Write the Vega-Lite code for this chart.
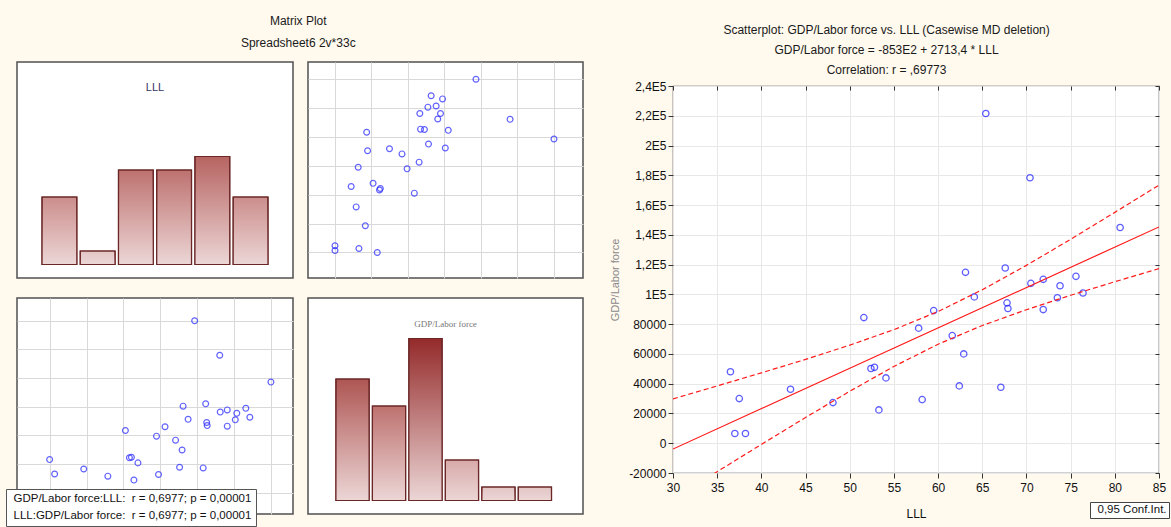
{
  "$schema": "https://vega.github.io/schema/vega-lite/v6.json",
  "background": "#FFF9EE",
  "padding": {"left": 4, "top": 15, "right": 0, "bottom": 0},
  "config": {
    "font": "Liberation Sans",
    "view": {"stroke": "#505050", "strokeWidth": 1.5, "fill": "white"},
    "axis": {"labelFont": "Liberation Sans", "titleFont": "Liberation Sans", "labelOverlap": false, "labelFlush": false},
    "title": {"font": "Liberation Sans", "fontWeight": "normal", "color": "#1a1a1a"},
    "legend": {"labelFont": "Liberation Sans"}
  },
  "datasets": {
    "pts": [
      {"LLL": 36.5, "GDP": 48000}, {"LLL": 37.5, "GDP": 30000}, {"LLL": 37.0, "GDP": 6500},
      {"LLL": 38.2, "GDP": 6500}, {"LLL": 43.3, "GDP": 36300}, {"LLL": 48.1, "GDP": 27300},
      {"LLL": 51.6, "GDP": 84400}, {"LLL": 52.4, "GDP": 50200}, {"LLL": 52.8, "GDP": 51000},
      {"LLL": 54.1, "GDP": 43900}, {"LLL": 53.3, "GDP": 22400}, {"LLL": 57.8, "GDP": 77300},
      {"LLL": 58.2, "GDP": 29300}, {"LLL": 59.5, "GDP": 89100}, {"LLL": 61.6, "GDP": 72300},
      {"LLL": 62.9, "GDP": 60000}, {"LLL": 62.4, "GDP": 38500}, {"LLL": 64.1, "GDP": 98300},
      {"LLL": 67.1, "GDP": 37600}, {"LLL": 67.8, "GDP": 94300}, {"LLL": 67.9, "GDP": 90500},
      {"LLL": 71.9, "GDP": 89800}, {"LLL": 73.5, "GDP": 97700}, {"LLL": 76.4, "GDP": 100900},
      {"LLL": 65.4, "GDP": 221500}, {"LLL": 70.4, "GDP": 178400}, {"LLL": 80.6, "GDP": 144900},
      {"LLL": 63.1, "GDP": 114800}, {"LLL": 67.6, "GDP": 117700}, {"LLL": 70.5, "GDP": 107400},
      {"LLL": 71.9, "GDP": 110100}, {"LLL": 73.8, "GDP": 105800}, {"LLL": 75.6, "GDP": 112100}
    ],
    "histLLL": [
      {"bin": 1, "count": 5}, {"bin": 2, "count": 1}, {"bin": 3, "count": 7},
      {"bin": 4, "count": 7}, {"bin": 5, "count": 8}, {"bin": 6, "count": 5}
    ],
    "histGDP": [
      {"bin": 1, "count": 9}, {"bin": 2, "count": 7}, {"bin": 3, "count": 12},
      {"bin": 4, "count": 3}, {"bin": 5, "count": 1}, {"bin": 6, "count": 1}
    ],
    "ci": [
      {"kind": "fit", "LLL": 30, "v": -3900}, {"kind": "fit", "LLL": 85, "v": 145300},
      {"kind": "lower", "LLL": 30, "v": -37600}, {"kind": "lower", "LLL": 35, "v": -19100},
      {"kind": "lower", "LLL": 40, "v": -800}, {"kind": "lower", "LLL": 45, "v": 17300},
      {"kind": "lower", "LLL": 50, "v": 34900}, {"kind": "lower", "LLL": 55, "v": 51600},
      {"kind": "lower", "LLL": 60, "v": 66500}, {"kind": "lower", "LLL": 65, "v": 79100},
      {"kind": "lower", "LLL": 70, "v": 89700}, {"kind": "lower", "LLL": 75, "v": 99400},
      {"kind": "lower", "LLL": 80, "v": 108500}, {"kind": "lower", "LLL": 85, "v": 117300},
      {"kind": "upper", "LLL": 30, "v": 29800}, {"kind": "upper", "LLL": 35, "v": 38500},
      {"kind": "upper", "LLL": 40, "v": 47300}, {"kind": "upper", "LLL": 45, "v": 56300},
      {"kind": "upper", "LLL": 50, "v": 65900}, {"kind": "upper", "LLL": 55, "v": 76300},
      {"kind": "upper", "LLL": 60, "v": 88500}, {"kind": "upper", "LLL": 65, "v": 103100},
      {"kind": "upper", "LLL": 70, "v": 119500}, {"kind": "upper", "LLL": 75, "v": 137000},
      {"kind": "upper", "LLL": 80, "v": 155100}, {"kind": "upper", "LLL": 85, "v": 173400}
    ]
  },
  "resolve": {"scale": {"stroke": "independent", "color": "independent", "fill": "independent"}, "legend": {"stroke": "independent", "color": "independent"}},
  "spacing": 25,
  "hconcat": [
    {
      "title": {"text": ["Matrix Plot", "Spreadsheet6 2v*33c"], "fontSize": 12, "lineHeight": 22, "offset": 11, "anchor": "middle", "frame": "bounds", "dx": 4},
      "resolve": {"scale": {"stroke": "independent", "color": "independent", "fill": "independent"}, "legend": {"stroke": "independent", "color": "independent"}},
      "spacing": 18,
      "vconcat": [
        {
          "spacing": 13,
          "hconcat": [
            {
              "width": 276, "height": 216,
              "title": {"text": "LLL", "offset": -31, "fontSize": 11, "color": "#34345e", "anchor": "middle"},
              "data": {"name": "histLLL"},
              "encoding": {
                "x": {"field": "bin", "type": "ordinal", "scale": {"paddingInner": 0.09, "paddingOuter": 0.655}, "axis": null},
                "y": {"field": "count", "type": "quantitative", "scale": {"domain": [-1, 15], "nice": false, "zero": false}, "axis": null},
                "y2": {"datum": 0}
              },
              "layer": [
                {"mark": {"type": "bar", "stroke": "#6b2626", "strokeWidth": 1.2},
                 "encoding": {"fill": {"field": "count", "type": "quantitative", "scale": {"domain": [1, 12], "range": ["#e3c6c6", "#942a2a"]}, "legend": null}}},
                {"mark": {"type": "bar", "stroke": "#6b2626", "strokeWidth": 1.2,
                  "fill": {"gradient": "linear", "x1": 0, "y1": 0, "x2": 0, "y2": 1, "stops": [{"offset": 0, "color": "rgba(236,214,214,0)"}, {"offset": 1, "color": "rgba(236,214,214,1)"}]}}}
              ]
            },
            {
              "width": 275, "height": 216,
              "data": {"name": "pts"},
              "mark": {"type": "point", "shape": "circle", "filled": false, "stroke": "#2020ff", "strokeWidth": 1.2, "size": 34},
              "encoding": {
                "x": {"field": "GDP", "type": "quantitative", "scale": {"domain": [-20000, 250000], "nice": false, "zero": false},
                      "axis": {"values": [6500, 42333, 78167, 114000, 149833, 185667, 221500], "labels": false, "ticks": false, "domain": false, "title": null, "grid": true, "gridColor": "#d9d9d9"}},
                "y": {"field": "LLL", "type": "quantitative", "scale": {"domain": [30, 85], "nice": false, "zero": false},
                      "axis": {"values": [36.5, 43.85, 51.2, 58.55, 65.9, 73.25, 80.6], "labels": false, "ticks": false, "domain": false, "title": null, "grid": true, "gridColor": "#d9d9d9"}}
              }
            }
          ]
        },
        {
          "spacing": 13,
          "resolve": {"scale": {"stroke": "independent", "color": "independent", "fill": "independent"}, "legend": {"stroke": "independent", "color": "independent"}},
          "hconcat": [
            {
              "width": 276, "height": 216,
              "data": {"name": "pts"},
              "mark": {"type": "point", "shape": "circle", "filled": false, "strokeWidth": 1.2, "size": 34},
              "encoding": {
                "x": {"field": "LLL", "type": "quantitative", "scale": {"domain": [30, 85], "nice": false, "zero": false},
                      "axis": {"values": [36.5, 43.85, 51.2, 58.55, 65.9, 73.25, 80.6], "labels": false, "ticks": false, "domain": false, "title": null, "grid": true, "gridColor": "#d9d9d9"}},
                "y": {"field": "GDP", "type": "quantitative", "scale": {"domain": [-20000, 250000], "nice": false, "zero": false},
                      "axis": {"values": [6500, 42333, 78167, 114000, 149833, 185667, 221500], "labels": false, "ticks": false, "domain": false, "title": null, "grid": true, "gridColor": "#d9d9d9"}},
                "stroke": {
                  "datum": "GDP/Labor force:LLL:\u00a0 r = 0,6977; p = 0,00001",
                  "scale": {"domain": ["GDP/Labor force:LLL:\u00a0 r = 0,6977; p = 0,00001", "LLL:GDP/Labor force:\u00a0 r = 0,6977; p = 0,00001"], "range": ["#2020ff", "#2020ff"]},
                  "legend": {"orient": "none", "legendX": -11, "legendY": 191, "title": null, "strokeColor": "#555555", "fillColor": "white", "padding": 4, "rowPadding": 4, "labelFontSize": 11.5, "labelColor": "#111111", "labelLimit": 0, "symbolType": "circle", "symbolSize": 0, "symbolStrokeWidth": 0, "symbolOpacity": 0, "labelOffset": -8}
                }
              }
            },
            {
              "width": 275, "height": 216,
              "title": {"text": "GDP/Labor force", "offset": -31, "fontSize": 9, "font": "Liberation Serif", "color": "#777777", "anchor": "middle"},
              "data": {"name": "histGDP"},
              "encoding": {
                "x": {"field": "bin", "type": "ordinal", "scale": {"paddingInner": 0.09, "paddingOuter": 0.815, "align": 0.47}, "axis": null},
                "y": {"field": "count", "type": "quantitative", "scale": {"domain": [-1, 15], "nice": false, "zero": false}, "axis": null},
                "y2": {"datum": 0}
              },
              "layer": [
                {"mark": {"type": "bar", "stroke": "#6b2626", "strokeWidth": 1.2},
                 "encoding": {"fill": {"field": "count", "type": "quantitative", "scale": {"domain": [1, 12], "range": ["#e3c6c6", "#942a2a"]}, "legend": null}}},
                {"mark": {"type": "bar", "stroke": "#6b2626", "strokeWidth": 1.2,
                  "fill": {"gradient": "linear", "x1": 0, "y1": 0, "x2": 0, "y2": 1, "stops": [{"offset": 0, "color": "rgba(236,214,214,0)"}, {"offset": 1, "color": "rgba(236,214,214,1)"}]}}}
              ]
            }
          ]
        }
      ]
    },
    {
      "title": {"text": ["Scatterplot: GDP/Labor force vs. LLL (Casewise MD deletion)", "GDP/Labor force = -853E2 + 2713,4 * LLL", "Correlation: r = ,69773"], "fontSize": 12, "lineHeight": 20, "offset": -15, "anchor": "middle", "frame": "bounds", "dx": -3},
      "bounds": "flush",
      "spacing": 0,
      "resolve": {"scale": {"stroke": "independent", "color": "independent", "fill": "independent"}, "legend": {"stroke": "independent", "color": "independent"}},
      "vconcat": [
        {
          "width": 1, "height": 24,
          "view": {"stroke": "transparent", "fill": "transparent"},
          "data": {"values": []},
          "mark": {"type": "rule"},
          "encoding": {}
        },
        {
          "width": 486, "height": 387,
          "view": {"stroke": "#4a4a4a", "strokeWidth": 1.2, "fill": "white"},
          "resolve": {"axis": {"x": "independent", "y": "independent"}},
          "layer": [
            {
              "data": {"name": "pts"},
              "mark": {"type": "point", "shape": "circle", "filled": false, "stroke": "#1a1aff", "strokeWidth": 1.3, "size": 40},
              "encoding": {
                "x": {"field": "LLL", "type": "quantitative", "title": "LLL", "scale": {"domain": [30, 85], "nice": false, "zero": false},
                      "axis": {"values": [30, 35, 40, 45, 50, 55, 60, 65, 70, 75, 80, 85], "grid": true, "gridColor": "#e8e8e8", "domain": false, "tickSize": 5, "tickColor": "#333333", "labelPadding": 4, "labelFontSize": 12, "labelColor": "#111111", "labelFlush": false, "labelOverlap": false, "titleFontSize": 12, "titleFontWeight": "normal", "titleColor": "#111111", "titlePadding": 15}},
                "y": {"field": "GDP", "type": "quantitative", "title": "GDP/Labor force", "scale": {"domain": [-20000, 240000], "nice": false, "zero": false},
                      "axis": {"values": [-20000, 0, 20000, 40000, 60000, 80000, 100000, 120000, 140000, 160000, 180000, 200000, 220000, 240000],
                               "labelExpr": "datum.value >= 100000 ? replace(format(datum.value / 100000, '.1~f'), '.', ',') + 'E5' : '' + datum.value",
                               "grid": true, "gridColor": "#e8e8e8", "domain": false, "tickSize": 5, "tickColor": "#333333", "labelPadding": 2, "labelFontSize": 12, "labelColor": "#111111", "labelFlush": false, "labelOverlap": false, "titleFontSize": 11, "titleFontWeight": "normal", "titleColor": "#8a8a8a", "titlePadding": 8}}
              }
            },
            {
              "data": {"name": "pts"},
              "mark": {"type": "point", "opacity": 0},
              "encoding": {
                "x": {"field": "LLL", "type": "quantitative", "scale": {"domain": [30, 85], "nice": false, "zero": false},
                      "axis": {"orient": "top", "values": [30, 35, 40, 45, 50, 55, 60, 65, 70, 75, 80, 85], "grid": false, "domain": false, "labels": false, "title": null, "tickSize": -4, "tickColor": "#333333"}},
                "y": {"field": "GDP", "type": "quantitative", "scale": {"domain": [-20000, 240000], "nice": false, "zero": false},
                      "axis": {"orient": "right", "values": [-20000, 0, 20000, 40000, 60000, 80000, 100000, 120000, 140000, 160000, 180000, 200000, 220000, 240000], "grid": false, "domain": false, "labels": false, "title": null, "tickSize": -4, "tickColor": "#333333"}}
              }
            },
            {
              "data": {"name": "ci"},
              "transform": [{"filter": "datum.kind == 'fit'"}],
              "mark": {"type": "line", "color": "#ff1a1a", "strokeWidth": 1.2, "clip": true},
              "encoding": {
                "x": {"field": "LLL", "type": "quantitative", "title": "LLL", "scale": {"domain": [30, 85], "nice": false, "zero": false}, "axis": null},
                "y": {"field": "v", "type": "quantitative", "title": "GDP/Labor force", "scale": {"domain": [-20000, 240000], "nice": false, "zero": false}, "axis": null}
              }
            },
            {
              "data": {"name": "ci"},
              "transform": [{"filter": "datum.kind != 'fit'"}],
              "mark": {"type": "line", "strokeDash": [5, 3], "strokeWidth": 1.2, "clip": true},
              "encoding": {
                "x": {"field": "LLL", "type": "quantitative", "title": "LLL", "scale": {"domain": [30, 85], "nice": false, "zero": false}, "axis": null},
                "y": {"field": "v", "type": "quantitative", "title": "GDP/Labor force", "scale": {"domain": [-20000, 240000], "nice": false, "zero": false}, "axis": null},
                "detail": {"field": "kind"},
                "color": {"datum": "0,95 Conf.Int.", "scale": {"range": ["#ff1a1a"]},
                          "legend": {"orient": "none", "legendX": 417, "legendY": 416, "title": null, "strokeColor": "#444444", "fillColor": "white", "padding": 2, "labelFontSize": 11.5, "labelColor": "#111111", "labelLimit": 0, "symbolType": "circle", "symbolSize": 0, "symbolStrokeWidth": 0, "symbolOpacity": 0, "labelOffset": -6}}
              }
            }
          ]
        }
      ]
    }
  ]
}
